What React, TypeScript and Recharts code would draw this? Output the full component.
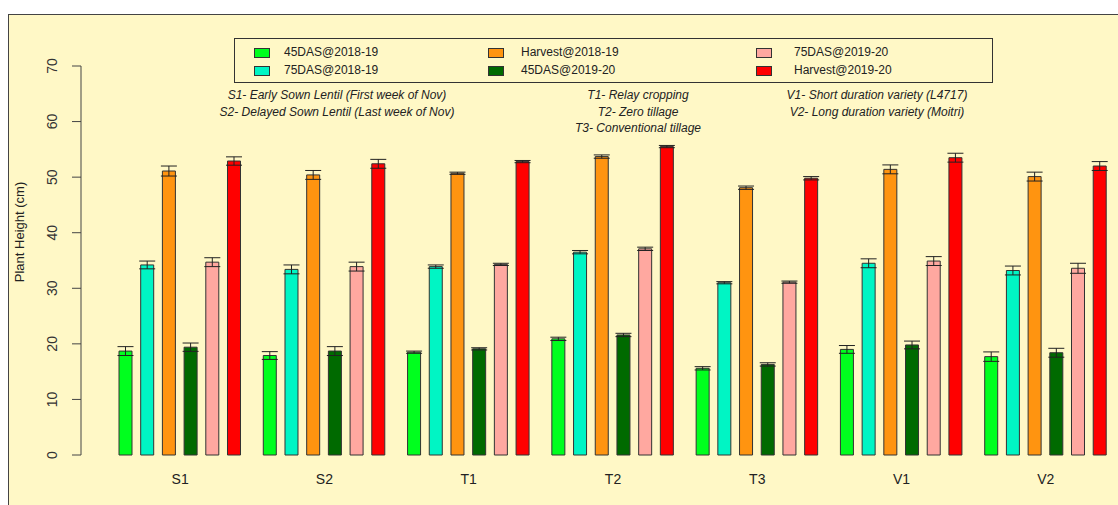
import React from "react";
import { BarChart, Bar, XAxis, YAxis, ErrorBar } from "recharts";

const categories = ["S1", "S2", "T1", "T2", "T3", "V1", "V2"];
const seriesNames = [
  "45DAS@2018-19",
  "75DAS@2018-19",
  "Harvest@2018-19",
  "45DAS@2019-20",
  "75DAS@2019-20",
  "Harvest@2019-20",
];
const seriesColors = ["#00FF1E", "#00F5C4", "#FF9410", "#006A00", "#FFA8A0", "#FF0000"];

const das45_1819 = [18.7, 17.9, 18.5, 20.9, 15.6, 19.0, 17.7];
const das75_1819 = [34.2, 33.4, 33.9, 36.5, 31.0, 34.5, 33.2];
const harv_1819 = [51.1, 50.4, 50.7, 53.7, 48.1, 51.4, 50.1];
const das45_1920 = [19.4, 18.7, 19.1, 21.6, 16.3, 19.8, 18.4];
const das75_1920 = [34.7, 33.9, 34.3, 37.1, 31.1, 34.9, 33.6];
const harv_1920 = [52.9, 52.4, 52.8, 55.5, 49.8, 53.5, 52.0];

const err45_1819 = [0.8, 0.7, 0.2, 0.3, 0.3, 0.7, 0.85];
const err75_1819 = [0.7, 0.8, 0.3, 0.3, 0.2, 0.8, 0.8];
const errHarv_1819 = [0.9, 0.8, 0.2, 0.3, 0.3, 0.8, 0.8];
const err45_1920 = [0.75, 0.8, 0.2, 0.3, 0.3, 0.7, 0.8];
const err75_1920 = [0.8, 0.8, 0.2, 0.3, 0.2, 0.8, 0.9];
const errHarv_1920 = [0.75, 0.8, 0.2, 0.2, 0.3, 0.8, 0.8];

const yTicks = [0, 10, 20, 30, 40, 50, 60, 70];

const values = [das45_1819, das75_1819, harv_1819, das45_1920, das75_1920, harv_1920];
const errors = [err45_1819, err75_1819, errHarv_1819, err45_1920, err75_1920, errHarv_1920];

const data = categories.map((c, i) => {
  const row: Record<string, any> = { cat: c };
  values.forEach((arr, k) => {
    row["v" + k] = arr[i];
    row["e" + k] = errors[k][i];
  });
  return row;
});

const FONT = "'Liberation Sans', Arial, sans-serif";

const YTick = (props: any) => {
  const { x, y, payload } = props;
  const tx = x - 13;
  return (
    <text
      x={tx}
      y={y}
      transform={`rotate(-90, ${tx}, ${y})`}
      textAnchor="middle"
      fontSize={14}
      fill="#333"
      fontFamily={FONT}
    >
      {payload.value}
    </text>
  );
};

const XTick = (props: any) => {
  const { x, y, payload } = props;
  return (
    <text x={x} y={y + 21} textAnchor="middle" fontSize={14} fill="#222" fontFamily={FONT}>
      {payload.value}
    </text>
  );
};

const LegendBox = () => {
  const cols = [
    { sx: 19, tx: 49 },
    { sx: 253, tx: 286 },
    { sx: 521, tx: 559 },
  ];
  return (
    <div
      style={{
        position: "absolute",
        left: 234,
        top: 38,
        width: 759,
        height: 45,
        border: "1px solid #333",
        boxSizing: "border-box",
        fontFamily: FONT,
        fontSize: 12,
        color: "#222",
      }}
    >
      {seriesNames.map((n, i) => {
        const col = cols[Math.floor(i / 2)];
        const row = i % 2;
        const cy = 14 + row * 18;
        return (
          <React.Fragment key={n}>
            <div
              style={{
                position: "absolute",
                left: col.sx,
                top: cy - 5,
                width: 14,
                height: 8,
                background: seriesColors[i],
                border: "1px solid #333",
              }}
            />
            <div style={{ position: "absolute", left: col.tx, top: cy - 8, lineHeight: "15px", whiteSpace: "nowrap" }}>
              {n}
            </div>
          </React.Fragment>
        );
      })}
    </div>
  );
};

const notes = [
  { cx: 337, lines: ["S1- Early Sown Lentil (First week of Nov)", "S2- Delayed Sown Lentil (Last week of Nov)"] },
  { cx: 638, lines: ["T1- Relay cropping", "T2- Zero tillage", "T3- Conventional tillage"] },
  { cx: 877, lines: ["V1- Short duration variety (L4717)", "V2- Long duration variety (Moitri)"] },
];

export default function App() {
  return (
    <div style={{ position: "absolute", left: 0, top: 0, width: 1118, height: 505, overflow: "hidden", background: "#fff" }}>
      <div
        style={{
          position: "absolute",
          left: 8,
          top: 14,
          width: 1130,
          height: 510,
          background: "#FFF8C6",
          borderLeft: "1.5px solid #444",
          borderTop: "1.5px solid #444",
        }}
      />
      <div
        style={{
          position: "absolute",
          left: 19,
          top: 232,
          transform: "translate(-50%, -50%) rotate(-90deg)",
          fontFamily: FONT,
          fontSize: 13,
          color: "#222",
          whiteSpace: "nowrap",
        }}
      >
        Plant Height (cm)
      </div>
      {notes.map((g) =>
        g.lines.map((l, j) => (
          <div
            key={l}
            style={{
              position: "absolute",
              left: g.cx,
              top: 95 + j * 16.7,
              transform: "translate(-50%, -50%)",
              fontFamily: FONT,
              fontSize: 12,
              fontStyle: "italic",
              color: "#222",
              whiteSpace: "nowrap",
            }}
          >
            {l}
          </div>
        ))
      )}
      <LegendBox />
      <div style={{ position: "absolute", left: 0, top: 0 }}>
        <BarChart
          width={1118}
          height={505}
          data={data}
          margin={{ top: 66, right: 0, bottom: 0, left: 0 }}
          barSize={13}
          barGap={8.7}
        >
          <XAxis
            dataKey="cat"
            axisLine={false}
            tickLine={false}
            height={50}
            padding={{ left: 27, right: 0 }}
            tick={<XTick />}
            interval={0}
          />
          <YAxis
            width={81}
            domain={[0, 70]}
            ticks={yTicks}
            interval={0}
            axisLine={{ stroke: "#444", strokeWidth: 1 }}
            tickLine={{ stroke: "#444", strokeWidth: 1 }}
            tickSize={9}
            tick={<YTick />}
          />
          {seriesNames.map((n, k) => (
            <Bar
              key={n}
              dataKey={"v" + k}
              name={n}
              fill={seriesColors[k]}
              stroke="#333"
              strokeWidth={1}
              isAnimationActive={false}
            >
              <ErrorBar dataKey={"e" + k} width={8} stroke="#222" strokeWidth={1} />
            </Bar>
          ))}
        </BarChart>
      </div>
    </div>
  );
}
